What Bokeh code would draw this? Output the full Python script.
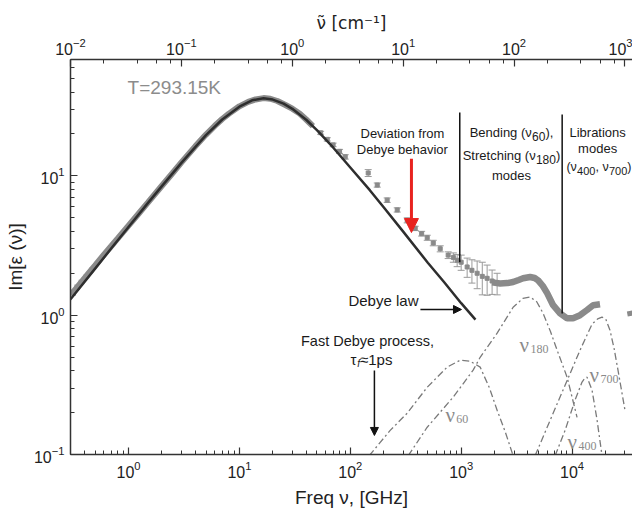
from bokeh.plotting import figure
from bokeh.models import Range1d, LogAxis, Label, Arrow, NormalHead, Whisker, TeeHead, ColumnDataSource
from bokeh.embed import file_html
from bokeh.resources import INLINE

# ---------------- data ----------------
GHZ_PER_CM = 29.9792458

# dense measured data (thick grey band), GHz / Im eps / error
band_freq = [0.30, 0.33, 0.36, 0.40, 0.45, 0.50, 0.60, 0.70, 0.80, 1.0, 1.2, 1.5, 2.0, 2.5, 3.0,
             4.0, 5.0, 6.0, 7.0, 8.0, 10, 12, 14, 16.5, 19, 22, 26, 30, 35, 40, 46]
band_eps = [1.40, 1.52, 1.66, 1.84, 2.06, 2.28, 2.72, 3.14, 3.56, 4.40, 5.22, 6.45, 8.50, 10.5, 12.5,
            16.3, 19.8, 22.9, 25.6, 27.9, 31.6, 34.0, 35.4, 36.2, 35.8, 34.5, 32.3, 30.4, 28.0, 25.4, 22.8]
band_err = [0.14, 0.14, 0.14, 0.14, 0.14, 0.14, 0.14, 0.15, 0.15, 0.15, 0.15, 0.15, 0.2, 0.2, 0.2,
            0.3, 0.3, 0.3, 0.3, 0.3, 0.4, 0.4, 0.4, 0.4, 0.4, 0.4, 0.4, 0.4, 0.4, 0.4, 0.4]

# separated measured points with error bars
scatter_freq = [54, 62, 70, 80, 90, 145, 175, 215, 265, 326, 385, 440, 494, 560, 647, 763, 850, 920,
                1000, 1132, 1250, 1393, 1550, 1714, 1900, 2109]
scatter_eps = [20.4, 18.3, 16.7, 15.0, 13.7, 10.5, 8.6, 6.7, 5.7, 4.8, 4.2, 3.85, 3.6, 3.3, 3.0, 2.7, 2.6, 2.48,
               2.4, 2.22, 2.1, 2.0, 1.9, 1.84, 1.76, 1.70]
scatter_err = [0.5, 0.5, 0.5, 0.5, 0.5, 0.6, 0.3, 0.25, 0.2, 0.2, 0.15, 0.15, 0.15, 0.15, 0.15, 0.15, 0.2, 0.25,
               0.3, 0.35, 0.4, 0.45, 0.5, 0.45, 0.35, 0.3]

# high frequency measured curve (THz region)
thick_freq = [1900, 2245, 2600, 2939, 3300, 3620, 4186, 4600, 4943, 5450, 5960, 6748, 7800, 9020,
              10210, 11800, 13650, 15460, 17860]
thick_eps = [1.72, 1.69, 1.70, 1.73, 1.79, 1.84, 1.88, 1.85, 1.78, 1.62, 1.44, 1.18, 1.03, 0.95,
             0.95, 1.00, 1.09, 1.18, 1.20]
tail_freq = [31500, 36000]
tail_eps = [1.02, 1.04]

# Debye law line
debye_freq = [0.30, 0.50, 0.70, 1.0, 1.5, 2.0, 3.0, 4.0, 5.0, 7.0, 10, 13, 16.5, 20, 25, 30, 40, 50,
              70, 100, 150, 200, 300, 500, 700, 1000, 1345]
debye_eps = [1.30, 2.16, 3.02, 4.30, 6.40, 8.45, 12.4, 16.1, 19.6, 25.4, 31.4, 34.9, 36.1, 35.3, 33.0, 30.3,
             25.3, 21.3, 16.0, 11.5, 7.9, 5.95, 3.98, 2.38, 1.73, 1.22, 0.93]

# intermolecular / librational modes (dash-dot)
nu60_freq = [148, 229, 326, 494, 748, 979, 1200, 1483, 1800, 2109, 2500, 2940]
nu60_eps = [0.098, 0.149, 0.198, 0.304, 0.424, 0.475, 0.468, 0.424, 0.30, 0.208, 0.145, 0.098]
nu180_freq = [333, 494, 847, 1282, 1483, 2109, 2940, 3600, 4186, 4800, 5484, 6400, 7330, 9020, 11090]
nu180_eps = [0.098, 0.157, 0.258, 0.403, 0.499, 0.743, 1.14, 1.32, 1.35, 1.25, 1.03, 0.76, 0.561, 0.359, 0.185]
nu400_freq = [7030, 8650, 10640, 12300, 13000, 13650, 15140, 16800, 18630]
nu400_eps = [0.098, 0.149, 0.246, 0.331, 0.352, 0.359, 0.290, 0.177, 0.098]
nu700_freq = [4640, 6340, 8650, 11800, 15140, 17000, 18630, 20200, 21980, 23900, 25950, 30000]
nu700_eps = [0.098, 0.176, 0.314, 0.561, 0.863, 0.94, 0.968, 0.93, 0.78, 0.58, 0.403, 0.208]
mode_names = ["60", "180", "400", "700"]

# region boundaries
boundary_freq = [971, 8140]
boundary_top = [28.5, 27.6]
boundary_bottom = [2.40, 1.03]

# ---------------- figure ----------------
CM0 = 0.0099999
X0, X1 = CM0 * GHZ_PER_CM, 35070
p = figure(width=632, height=515, x_axis_type="log", y_axis_type="log",
           x_range=Range1d(X0, X1), y_range=Range1d(0.1, 68.5),
           toolbar_location=None, output_backend="svg",
           min_border_left=70, min_border_right=0, min_border_top=59, min_border_bottom=61)
p.outline_line_color = None
p.grid.visible = False
p.background_fill_color = "white"
p.border_fill_color = "white"

p.extra_x_ranges = {"cm": Range1d(CM0, X1 / GHZ_PER_CM)}
top = LogAxis(x_range_name="cm", axis_label="\u03bd\u0303 [cm\u207b\u00b9]")
p.add_layout(top, "above")

bottom = p.below[0]
left = p.left[0]
bottom.axis_label = "Freq \u03bd, [GHz]"
left.axis_label = "Im[\u03b5 (\u03bd)]"

SANS = "Liberation Sans"
SERIF = "Liberation Serif"
for ax in [bottom, left, top]:
    ax.axis_line_color = "#333333"
    ax.axis_line_width = 1.5
    ax.major_tick_line_color = "#333333"
    ax.minor_tick_line_color = "#333333"
    ax.major_tick_line_width = 1.2
    ax.minor_tick_line_width = 1.0
    ax.major_tick_in = 7
    ax.major_tick_out = 0
    ax.minor_tick_in = 4
    ax.minor_tick_out = 0
    ax.major_label_text_font = SANS
    ax.major_label_text_font_size = "16px"
    ax.major_label_text_color = "#222222"
    ax.axis_label_text_font = SANS
    ax.axis_label_text_font_size = "19px"
    ax.axis_label_text_font_style = "normal"
    ax.axis_label_text_color = "#222222"
top.axis_label_text_font = "DejaVu Sans"
top.axis_label_text_font_size = "17px"
bottom.major_label_standoff = 6
bottom.axis_label_standoff = 6
left.major_label_standoff = 6
left.axis_label_standoff = 5
top.major_label_standoff = 5
top.axis_label_standoff = 2

GREY = "#8a8a8a"

# measured band with error bars
band_src = ColumnDataSource(dict(f=band_freq, v=band_eps,
                                 lo=[v - e for v, e in zip(band_eps, band_err)],
                                 hi=[v + e for v, e in zip(band_eps, band_err)]))
p.segment(x0="f", y0="lo", x1="f", y1="hi", source=band_src, line_color=GREY, line_width=1.2)
p.line("f", "v", source=band_src, line_color=GREY, line_width=6)

sc_src = ColumnDataSource(dict(f=scatter_freq, v=scatter_eps,
                               lo=[v - e for v, e in zip(scatter_eps, scatter_err)],
                               hi=[v + e for v, e in zip(scatter_eps, scatter_err)]))
p.add_layout(Whisker(source=sc_src, base="f", lower="lo", upper="hi", dimension="height",
                     line_color="#9a9a9a", line_width=1,
                     lower_head=TeeHead(size=7, line_color="#9a9a9a"),
                     upper_head=TeeHead(size=7, line_color="#9a9a9a")))
p.scatter("f", "v", source=sc_src, marker="square", size=4, fill_color=GREY, line_color=GREY)

p.line(thick_freq, thick_eps, line_color=GREY, line_width=6.5)
p.line(tail_freq, tail_eps, line_color=GREY, line_width=5)

# Debye law
p.line(debye_freq, debye_eps, line_color="#2e2e2e", line_width=2.5)

# modes
for fr, ep in [(nu60_freq, nu60_eps), (nu180_freq, nu180_eps), (nu400_freq, nu400_eps), (nu700_freq, nu700_eps)]:
    p.line(fr, ep, line_color="#7a7a7a", line_width=1.3, line_dash="7 3 2 3")

# boundaries
p.segment(x0=boundary_freq, y0=boundary_bottom, x1=boundary_freq, y1=boundary_top,
          line_color="#111111", line_width=1.5)

# arrows
p.add_layout(Arrow(end=NormalHead(size=14, fill_color="#e8231f", line_color="#e8231f"),
                   x_start=356, y_start=13.3, x_end=356, y_end=3.92,
                   line_color="#e8231f", line_width=3))
p.add_layout(Arrow(end=NormalHead(size=8, fill_color="#111111", line_color="#111111"),
                   x_start=429, y_start=1.099, x_end=1006, y_end=1.099,
                   line_color="#111111", line_width=1.5))
p.add_layout(Arrow(end=NormalHead(size=8, fill_color="#111111", line_color="#111111"),
                   x_start=165, y_start=0.401, x_end=165, y_end=0.137,
                   line_color="#111111", line_width=1.5))

# ---------------- text annotations ----------------
W = {' ': 0.278, '(': 0.333, ')': 0.333, ',': 0.278, '.': 0.278, '=': 0.584, '\u2248': 0.584,
     '\u03bd': 0.52, '\u03c4': 0.45, 'B': 0.667, 'D': 0.722, 'F': 0.611, 'L': 0.556, 'S': 0.667,
     'T': 0.611, 'K': 0.667, 'a': 0.556, 'b': 0.556, 'c': 0.5, 'd': 0.556, 'e': 0.556, 'f': 0.278,
     'g': 0.556, 'h': 0.556, 'i': 0.222, 'l': 0.222, 'm': 0.833, 'n': 0.556, 'o': 0.556, 'p': 0.556,
     'r': 0.333, 's': 0.5, 't': 0.278, 'v': 0.5, 'w': 0.722, 'y': 0.5}


def tw(s, size):
    return sum(W.get(c, 0.556) for c in s) * size


def rich(x, y, pieces, align="center", color="#1a1a1a", font=SANS, baseline="middle"):
    total = sum(tw(t, sz) for t, sz, dy, st in pieces)
    off = -total / 2 if align == "center" else 0.0
    for t, sz, dy, st in pieces:
        p.add_layout(Label(x=x, y=y, text=t, x_offset=off, y_offset=dy, text_font=font,
                           text_font_size=f"{sz}px", text_font_style=st, text_color=color,
                           text_align="left", text_baseline=baseline))
        off += tw(t, sz)


N = "normal"
rich(0.98, 43.1, [("T=293.15K", 19, 0, N)], align="left", color="#8c8c8c")
rich(295, 20.2, [("Deviation from", 13, 0, N)])
rich(295, 15.5, [("Debye behavior", 13, 0, N)])
rich(2842, 20.5, [("Bending (\u03bd", 13, 0, N), ("60", 12, -4, N), ("),", 13, 0, N)])
rich(2842, 14.0, [("Stretching (\u03bd", 13, 0, N), ("180", 12, -4, N), (")", 13, 0, N)])
rich(2842, 10.07, [("modes", 13, 0, N)])
rich(17000, 20.5, [("Librations", 13, 0, N)])
rich(17000, 15.7, [("modes", 13, 0, N)])
rich(8900, 11.55, [("(\u03bd", 12.5, 0, N), ("400", 11, -4, N), (", \u03bd", 12.5, 0, N), ("700", 11, -4, N),
                   (")", 12.5, 0, N)], align="left")
rich(96.2, 1.275, [("Debye law", 15, 0, N)], align="left")
rich(142.8, 0.658, [("Fast Debye process,", 14.5, 0, N)])
rich(100.3, 0.481, [("\u03c4", 15, 0, N), ("f", 10, -4, "italic"), ("\u22481ps", 15, 0, N)], align="left")

for name, fx, vy in zip(mode_names, [721, 3355, 9093, 14350], [0.1937, 0.616, 0.122, 0.375]):
    rich(fx, vy, [("\u03bd", 21, 0, N), (name, 12, -4, N)], align="left", font=SERIF,
         color="#8a8a8a", baseline="alphabetic")

open("out.html", "w").write(file_html(p, INLINE))
